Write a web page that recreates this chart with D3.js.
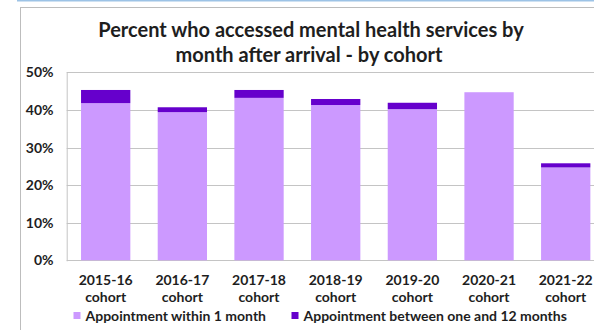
<!DOCTYPE html>
<html>
<head>
<meta charset="utf-8">
<script src="https://cdn.jsdelivr.net/npm/d3@7"></script>
<style>
  html, body { margin: 0; padding: 0; background: #fff; }
  svg { display: block; }
  text { font-family: Lato, "Open Sans", sans-serif; fill: #1e1e1e; }
</style>
</head>
<body>
<svg id="chart" width="594" height="330"></svg>
<script>
// Cohorts and the share (%) who accessed mental health services
const cohorts = ["2015-16", "2016-17", "2017-18", "2018-19", "2019-20", "2020-21", "2021-22"];
const withinOneMonth = [41.8, 39.4, 43.2, 41.3, 40.2, 44.7, 24.7];
const oneToTwelveMonths = [3.5, 1.3, 2.1, 1.6, 1.7, 0.0, 1.1];
const seriesNames = ["Appointment within 1 month", "Appointment between one and 12 months"];
const seriesColors = ["#CC99FF", "#6600CC"];
const yTicks = [0, 10, 20, 30, 40, 50];

const svg = d3.select("#chart");

// outer frame
svg.append("line").attr("x1", 17).attr("x2", 594).attr("y1", 0.8).attr("y2", 0.8)
  .attr("stroke", "#9DC3E6").attr("stroke-width", 1.6);
svg.append("rect").attr("x", 20.5).attr("y", 7.5).attr("width", 600).attr("height", 340)
  .attr("fill", "none").attr("stroke", "#BDBDBD").attr("stroke-width", 1);

// title
const title = svg.append("text").attr("text-anchor", "middle")
  .style("font-size", "20px").style("font-weight", 700);
title.append("tspan").attr("x", 311).attr("y", 37).text("Percent who accessed mental health services by");
title.append("tspan").attr("x", 309).attr("y", 62).text("month after arrival - by cohort");

const plotLeft = 66.7, plotTop = 72.3, plotBottom = 260.3;

const x = d3.scaleBand().domain(cohorts)
  .range([plotLeft, plotLeft + 538])
  .paddingInner(0.357).paddingOuter(0.187);
const y = d3.scaleLinear().domain([0, 50]).range([plotBottom, plotTop]);

// gridlines
svg.append("g").selectAll("line").data(yTicks).join("line")
  .attr("x1", plotLeft).attr("x2", 620)
  .attr("y1", d => Math.round(y(d)) + 0.5).attr("y2", d => Math.round(y(d)) + 0.5)
  .attr("stroke", "#C4C4C4").attr("stroke-width", 1);
svg.append("line").attr("x1", plotLeft + 0.5).attr("x2", plotLeft + 0.5)
  .attr("y1", plotTop).attr("y2", plotBottom + 1)
  .attr("stroke", "#C4C4C4").attr("stroke-width", 1);

// y tick labels
svg.append("g").selectAll("text").data(yTicks).join("text")
  .attr("x", 53.5).attr("y", d => y(d) + 5)
  .attr("text-anchor", "end")
  .style("font-size", "14px").style("font-weight", 700)
  .text(d => d + "%");

// stacked bars
const rows = cohorts.map((c, i) => ({ cohort: c, a: withinOneMonth[i], b: oneToTwelveMonths[i] }));
const stack = d3.stack().keys(["a", "b"])(rows);
svg.append("g").selectAll("g").data(stack).join("g")
  .attr("fill", (d, i) => seriesColors[i])
  .selectAll("rect").data(d => d).join("rect")
  .attr("x", d => x(d.data.cohort))
  .attr("width", x.bandwidth())
  .attr("y", d => y(d[1]))
  .attr("height", d => y(d[0]) - y(d[1]));

// category labels
const xl = svg.append("g").selectAll("text").data(cohorts).join("text")
  .attr("text-anchor", "middle")
  .style("font-size", "14px").style("font-weight", 700);
xl.append("tspan").attr("x", d => x(d) + x.bandwidth() / 2).attr("y", 285).text(d => d);
xl.append("tspan").attr("x", d => x(d) + x.bandwidth() / 2).attr("y", 302).text("cohort");

// legend
const legendX = [73.5, 291.5];
const lg = svg.append("g").selectAll("g").data(seriesNames).join("g")
  .attr("transform", (d, i) => `translate(${legendX[i]},312)`);
lg.append("rect").attr("width", 7).attr("height", 7).attr("fill", (d, i) => seriesColors[i]);
lg.append("text").attr("x", 12).attr("y", 8.5)
  .style("font-size", "14px").style("font-weight", 700)
  .text(d => d);
</script>
</body>
</html>
